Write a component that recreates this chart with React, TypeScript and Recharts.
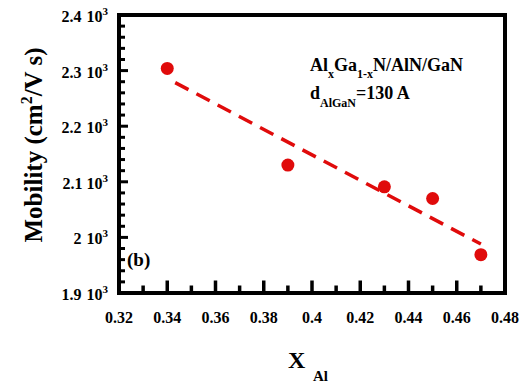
import {
  ComposedChart,
  Line,
  ReferenceArea,
  Scatter,
  XAxis,
  YAxis,
} from "recharts";

// Mobility vs Al mole fraction, AlGaN/AlN/GaN, d = 130 A
const xAl = [0.34, 0.39, 0.43, 0.45, 0.47];
const mobility = [2304, 2130, 2091, 2070, 1969];

// linear fit
const fitX = [0.34, 0.47];
const fitY = [2286, 1988];

const xTicks = [
  0.32, 0.33, 0.34, 0.35, 0.36, 0.37, 0.38, 0.39, 0.4, 0.41, 0.42, 0.43, 0.44,
  0.45, 0.46, 0.47, 0.48,
];
const yTicks = [
  1900, 1920, 1940, 1960, 1980, 2000, 2020, 2040, 2060, 2080, 2100, 2120, 2140,
  2160, 2180, 2200, 2220, 2240, 2260, 2280, 2300, 2320, 2340, 2360, 2380, 2400,
];

const RED = "#e00b0b";
const FONT = '"Liberation Serif", "DejaVu Serif", serif';
const txt = { fontFamily: FONT, fontWeight: 700 } as const;

const points = xAl.map((x, i) => ({ x, y: mobility[i] }));
const fit = fitX.map((x, i) => ({ x, y: fitY[i] }));

function XTick(props: any) {
  const { x, y, payload } = props;
  const v = payload.value as number;
  const major = Math.round(v * 100) % 2 === 0;
  return (
    <g>
      <line x1={x} x2={x} y1={y} y2={y - (major ? 12.5 : 7.5)} stroke="#000" strokeWidth={3.5} />
      {major && (
        <text x={x} y={y + 30} textAnchor="middle" fontSize={16} style={txt} fill="#000">
          {String(v)}
        </text>
      )}
    </g>
  );
}

function YTick(props: any) {
  const { x, y, payload } = props;
  const v = payload.value as number;
  const major = v % 100 === 0;
  return (
    <g>
      <line x1={x} x2={x + (major ? 9 : 6)} y1={y} y2={y} stroke="#000" strokeWidth={3} />
      {major && (
        <text x={x - 11} y={y + 7} textAnchor="end" fontSize={16} style={txt} fill="#000">
          {`${v / 1000}`}
          <tspan dx={5}>10</tspan>
          <tspan fontSize={11} dy={-7}>3</tspan>
        </text>
      )}
    </g>
  );
}

export default function App() {
  return (
    <div style={{ position: "absolute", left: 0, top: 0, width: 526, height: 383, background: "#fff", ...txt }}>
      <ComposedChart
        width={526}
        height={383}
        data={points}
        margin={{ top: 15, right: 21, bottom: 0, left: 0 }}
      >
        <XAxis
          dataKey="x"
          type="number"
          domain={[0.32, 0.48]}
          ticks={xTicks}
          interval={0}
          allowDataOverflow
          axisLine={false}
          tickLine={false}
          tickSize={0}
          tickMargin={0}
          height={90}
          tick={<XTick />}
        />
        <YAxis
          type="number"
          domain={[1900, 2400]}
          ticks={yTicks}
          interval={0}
          allowDataOverflow
          axisLine={false}
          tickLine={false}
          tickSize={0}
          tickMargin={0}
          width={119}
          tick={<YTick />}
        />
        <ReferenceArea
          x1={0.32}
          x2={0.48}
          y1={1900}
          y2={2400}
          fill="none"
          fillOpacity={0}
          stroke="#000"
          strokeWidth={4}
        />
        <Line
          data={fit}
          dataKey="y"
          type="linear"
          stroke={RED}
          strokeWidth={3.5}
          strokeDasharray="15 9"
          strokeDashoffset={15}
          dot={false}
          activeDot={false}
          isAnimationActive={false}
        />
        <Scatter
          data={points}
          dataKey="y"
          fill={RED}
          shape={(p: any) => <circle cx={p.cx} cy={p.cy} r={6.5} fill={RED} />}
          isAnimationActive={false}
        />
      </ComposedChart>
      <svg
        width={526}
        height={383}
        style={{ position: "absolute", left: 0, top: 0, pointerEvents: "none", ...txt }}
      >
        <text transform="translate(42,145) rotate(-90)" textAnchor="middle" fontSize={25} style={txt}>
          Mobility (cm<tspan fontSize={16} dy={-10}>2</tspan>
          <tspan dy={10}>/V s)</tspan>
        </text>
        <text x={288} y={368} fontSize={24} style={txt}>
          X
        </text>
        <text x={313} y={381} fontSize={15} style={txt}>
          Al
        </text>
        <text x={310} y={71} fontSize={18} style={txt}>
          Al<tspan fontSize={12} dy={7}>x</tspan>
          <tspan dy={-7}>Ga</tspan>
          <tspan fontSize={12} dy={7}>1-x</tspan>
          <tspan dy={-7}>N/AlN/GaN</tspan>
        </text>
        <text x={310} y={99} fontSize={18} style={txt}>
          d<tspan fontSize={12} dy={8}>AlGaN</tspan>
          <tspan dy={-8}>=130 A</tspan>
        </text>
        <text x={127} y={266} fontSize={19} style={txt}>
          (b)
        </text>
      </svg>
    </div>
  );
}
